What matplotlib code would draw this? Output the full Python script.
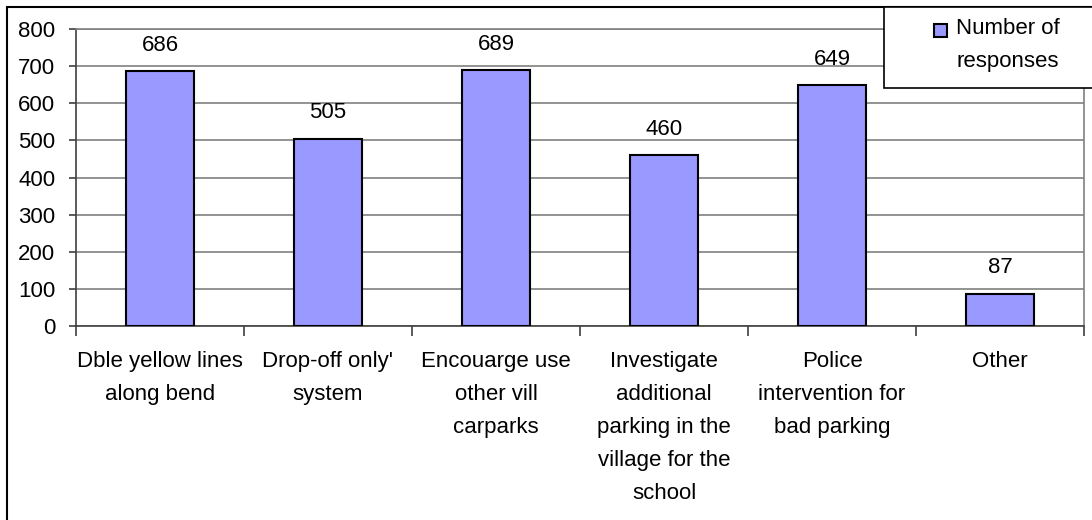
import matplotlib
matplotlib.use("Agg")
import matplotlib.pyplot as plt
from matplotlib.patches import Rectangle
import numpy as np

categories = [
    "Dble yellow lines\nalong bend",
    "Drop-off only'\nsystem",
    "Encouarge use\nother vill\ncarparks",
    "Investigate\nadditional\nparking in the\nvillage for the\nschool",
    "Police\nintervention for\nbad parking",
    "Other",
]
values = [686, 505, 689, 460, 649, 87]
series_name = "Number of\nresponses"
yticks = [0, 100, 200, 300, 400, 500, 600, 700, 800]

plt.rcParams['font.family'] = ['Liberation Sans', 'DejaVu Sans']
FS = 16
BAR_COLOR = "#9999FF"

W, H = 1092, 520
fig = plt.figure(figsize=(W / 100, H / 100), dpi=100)
ax = fig.add_axes([76 / W, 1 - 326 / H, (1084 - 76) / W, (326 - 29) / H])

x = np.arange(len(categories))
ax.bar(x, values, width=0.405, color=BAR_COLOR, edgecolor="black",
       linewidth=1.5, label=series_name, zorder=3)

ax.set_xlim(-0.5, len(categories) - 0.5)
ax.set_ylim(0, 800)
ax.set_yticks(yticks)
ax.set_yticklabels([str(v) for v in yticks], fontsize=FS)
ax.yaxis.grid(True, color="#808080", linewidth=1.2, zorder=0)

ax.set_xticks(x)
ax.set_xticklabels(categories, fontsize=FS, linespacing=1.75, va="top")
ax.tick_params(axis="x", which="major", length=0, pad=18)
ax.set_xticks(np.arange(-0.5, len(categories), 1.0), minor=True)
ax.tick_params(axis="x", which="minor", length=7, width=1.2, color="#404040")
ax.tick_params(axis="y", length=5, width=1.2, color="#404040", pad=10)

for s in ax.spines.values():
    s.set_color("#808080")
    s.set_linewidth(1.2)
ax.spines["left"].set_color("#404040")
ax.spines["bottom"].set_color("#404040")

for xi, v in zip(x, values):
    ax.annotate(str(v), (xi, v), xytext=(0, 11), textcoords="offset points",
                ha="center", va="bottom", fontsize=FS)

# outer chart frame (left/top visible, runs past right/bottom edges)
fig.patches.append(Rectangle((7 / W, -0.05), 1.1, 1 - 7 / H + 0.05,
                             transform=fig.transFigure, fill=False,
                             edgecolor="black", linewidth=1.5, zorder=0))

# legend box (runs past the right edge)
fig.patches.append(Rectangle((884 / W, 1 - 88 / H), 0.3, (88 - 7) / H,
                             transform=fig.transFigure, facecolor="white",
                             edgecolor="black", linewidth=1.2, zorder=10))
fig.patches.append(Rectangle((934 / W, 1 - 37 / H), 13 / W, 13 / H,
                             transform=fig.transFigure, facecolor=BAR_COLOR,
                             edgecolor="black", linewidth=1.5, zorder=11))
fig.text(956 / W, 1 - 18 / H, series_name, fontsize=FS, ha="left",
         va="top", linespacing=1.75, zorder=12,
         transform=fig.transFigure)

fig.savefig("out.png", dpi=100)
